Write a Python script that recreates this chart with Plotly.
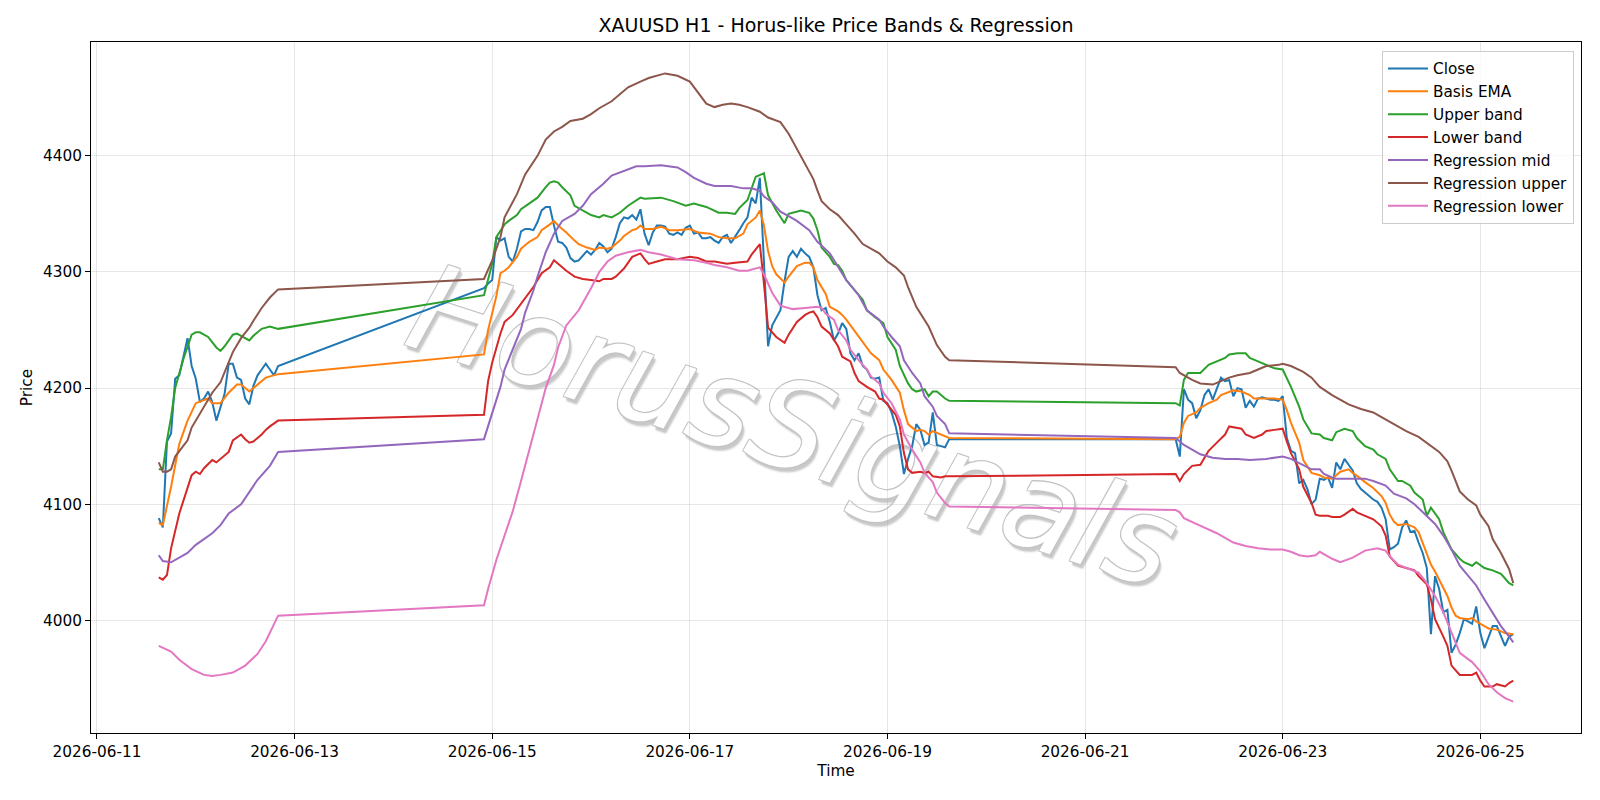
import pandas as pd
import plotly.graph_objects as go

BASE = pd.Timestamp("2026-06-11 00:00")

# ---- Close (hourly bars, three trading blocks; start hour offsets from BASE) ----
close_start_hours = [15, 94, 262]
close_block1 = [4088, 4080, 4154, 4161, 4208, 4211, 4227, 4243, 4219, 4208,
                4188, 4191, 4197, 4188, 4172, 4184, 4195, 4221, 4221, 4209,
                4207, 4191, 4186, 4202, 4211, 4216, 4221, 4216, 4211, 4219]
close_block2 = [4286, 4290, 4293, 4330, 4327, 4329, 4313, 4309, 4320, 4335,
                4337, 4337, 4336, 4343, 4353, 4356, 4356, 4340, 4326, 4325,
                4321, 4312, 4309, 4310, 4314, 4318, 4315, 4319, 4325, 4322,
                4317, 4320, 4330, 4342, 4347, 4346, 4349, 4345, 4354, 4333,
                4323, 4334, 4340, 4340, 4339, 4333, 4332, 4334, 4332, 4338,
                4340, 4333, 4334, 4329, 4329, 4330, 4327, 4325, 4330, 4332,
                4325, 4330, 4336, 4342, 4347, 4364, 4359, 4381, 4310, 4236,
                4254, 4261, 4267, 4292, 4313, 4318, 4313, 4320, 4316, 4313,
                4304, 4280, 4267, 4269, 4257, 4241, 4247, 4256, 4251, 4230,
                4224, 4230, 4219, 4216, 4209, 4208, 4209, 4189, 4187, 4179,
                4167, 4150, 4126, 4139, 4150, 4169, 4164, 4151, 4153, 4179,
                4151, 4150, 4149, 4156]
close_block3 = [4156, 4141, 4199, 4190, 4187, 4174, 4181, 4194, 4199, 4190,
                4200, 4209, 4206, 4207, 4193, 4200, 4199, 4183, 4189, 4184,
                4191, 4192, 4191, 4190, 4190, 4189, 4193, 4157, 4146, 4144,
                4118, 4121, 4113, 4100, 4104, 4122, 4121, 4123, 4114, 4136,
                4130, 4139, 4134, 4129, 4118, 4113, 4110, 4107, 4104, 4102,
                4097, 4087, 4061, 4063, 4066, 4080, 4086, 4076, 4077, 4067,
                4058, 4045, 3988, 4038, 4027, 4007, 4009, 3972, 3979, 3989,
                4001, 3999, 3997, 4012, 3989, 3976, 3986, 3995, 3995, 3986,
                3978, 3986, 3988]

# ---- Indicator readings: (hour offset from BASE, price) ----
basis_ema = [(15, 4084), (16, 4082), (18, 4115), (20, 4152), (22, 4172), (24, 4187), (27, 4191), (28, 4187),
             (30, 4187), (32, 4196), (34, 4203), (35, 4203), (37, 4197), (39, 4203), (41, 4209), (44, 4212),
             (94, 4229), (95, 4250), (97, 4279), (98, 4299), (99, 4301), (100, 4304), (102, 4313), (103, 4320),
             (105, 4326), (107, 4330), (108, 4336), (110, 4341), (111, 4344), (112, 4340), (114, 4334), (116, 4327),
             (117, 4324), (119, 4321), (121, 4319), (122, 4321), (124, 4320), (125, 4321), (127, 4327), (128, 4331),
             (130, 4336), (131, 4337), (132, 4340), (133, 4337), (135, 4337), (137, 4339), (139, 4336), (141, 4336),
             (144, 4337), (146, 4334), (149, 4333), (151, 4330), (153, 4329), (155, 4329), (157, 4333), (158, 4341),
             (160, 4347), (161, 4353), (162, 4340), (163, 4318), (164, 4305), (165, 4298), (167, 4291), (168, 4296),
             (170, 4305), (172, 4308), (173, 4308), (174, 4304), (175, 4293), (177, 4281), (178, 4270), (180, 4266),
             (181, 4263), (182, 4259), (184, 4249), (186, 4239), (188, 4230), (190, 4224), (191, 4216), (193, 4207),
             (195, 4196), (196, 4181), (197, 4169), (199, 4163), (200, 4164), (201, 4163), (202, 4160), (203, 4163),
             (205, 4160), (206, 4159), (207, 4157),
             (262, 4156), (263, 4158), (264, 4170), (265, 4176), (267, 4179), (268, 4183), (270, 4187), (272, 4190),
             (273, 4194), (275, 4197), (276, 4198), (278, 4197), (280, 4194), (281, 4191), (283, 4191), (285, 4191),
             (286, 4191), (288, 4190), (289, 4181), (290, 4170), (292, 4153), (293, 4138), (295, 4127), (297, 4125),
             (298, 4123), (300, 4122), (301, 4125), (302, 4128), (304, 4130), (305, 4127), (307, 4122), (308, 4119),
             (310, 4114), (312, 4107), (313, 4101), (314, 4091), (315, 4085), (316, 4082), (318, 4083), (320, 4080),
             (321, 4076), (322, 4067), (323, 4057), (324, 4048), (325, 4042), (327, 4027), (328, 4021), (329, 4011),
             (330, 4004), (331, 4002), (333, 4001), (334, 4002), (335, 3999), (337, 3995), (338, 3993), (340, 3992),
             (342, 3989), (344, 3988)]

upper_band = [(15, 4130), (16, 4130), (17, 4155), (18, 4175), (19, 4200), (21, 4225), (23, 4246), (24, 4248),
              (25, 4248), (27, 4244), (29, 4235), (30, 4232), (31, 4236), (33, 4246), (34, 4247), (37, 4241),
              (38, 4245), (40, 4251), (42, 4253), (44, 4251),
              (94, 4280), (96, 4307), (97, 4330), (99, 4341), (100, 4344), (102, 4349), (103, 4354), (105, 4359),
              (107, 4364), (109, 4373), (110, 4377), (111, 4378), (112, 4377), (113, 4373), (115, 4366), (116, 4357),
              (118, 4353), (120, 4349), (122, 4347), (123, 4349), (125, 4347), (127, 4351), (129, 4357), (132, 4364),
              (133, 4363), (137, 4364), (140, 4361), (143, 4357), (145, 4359), (148, 4356), (151, 4351), (153, 4351),
              (155, 4350), (156, 4355), (158, 4362), (159, 4372), (160, 4382), (162, 4385), (163, 4366), (165, 4353),
              (167, 4342), (168, 4350), (170, 4352), (171, 4353), (173, 4351), (174, 4346), (175, 4336), (176, 4321),
              (178, 4313), (179, 4307), (180, 4306), (181, 4301), (182, 4293), (184, 4284), (186, 4276), (187, 4267),
              (189, 4261), (191, 4256), (192, 4244), (194, 4233), (195, 4219), (197, 4204), (198, 4199), (199, 4197),
              (201, 4199), (202, 4193), (203, 4197), (204, 4197), (206, 4191), (207, 4189),
              (262, 4187), (263, 4185), (264, 4207), (265, 4213), (266, 4213), (268, 4213), (270, 4220), (272, 4223),
              (274, 4226), (275, 4229), (277, 4230), (279, 4230), (280, 4226), (282, 4223), (284, 4220), (286, 4217),
              (288, 4216), (290, 4201), (292, 4184), (293, 4173), (295, 4161), (297, 4160), (298, 4157), (300, 4155),
              (301, 4162), (303, 4165), (305, 4163), (306, 4157), (308, 4150), (310, 4147), (311, 4143), (313, 4139),
              (314, 4130), (316, 4120), (317, 4120), (319, 4116), (320, 4110), (322, 4104), (323, 4090), (324, 4097),
              (326, 4087), (327, 4076), (329, 4061), (331, 4053), (332, 4050), (334, 4047), (335, 4050), (337, 4045),
              (338, 4044), (339, 4043), (341, 4040), (343, 4032), (344, 4030)]

lower_band = [(15, 4037), (16, 4035), (17, 4039), (18, 4062), (20, 4092), (21, 4103), (23, 4125), (24, 4128),
              (25, 4126), (26, 4131), (28, 4138), (29, 4136), (30, 4139), (32, 4145), (33, 4155), (35, 4160),
              (36, 4156), (37, 4153), (38, 4154), (40, 4160), (41, 4164), (42, 4167), (44, 4172),
              (94, 4177), (95, 4206), (96, 4222), (98, 4247), (99, 4257), (101, 4263), (103, 4273), (106, 4287),
              (108, 4299), (110, 4304), (111, 4310), (113, 4304), (114, 4301), (116, 4296), (118, 4294), (120, 4293),
              (122, 4292), (123, 4294), (125, 4294), (126, 4296), (128, 4303), (130, 4313), (132, 4316), (133, 4311),
              (134, 4307), (136, 4309), (138, 4311), (141, 4311), (144, 4313), (146, 4312), (148, 4309), (150, 4309),
              (153, 4307), (155, 4308), (158, 4309), (159, 4315), (161, 4324), (162, 4290), (163, 4252), (165, 4244),
              (167, 4239), (168, 4246), (170, 4257), (172, 4263), (173, 4265), (174, 4266), (175, 4261), (176, 4253),
              (178, 4247), (180, 4236), (181, 4227), (183, 4223), (184, 4213), (185, 4206), (187, 4201), (189, 4197),
              (190, 4191), (191, 4190), (193, 4181), (194, 4177), (195, 4167), (196, 4144), (197, 4130), (198, 4127),
              (200, 4128), (201, 4127), (202, 4128), (203, 4124), (205, 4123), (206, 4124), (207, 4124),
              (262, 4126), (263, 4120), (264, 4126), (266, 4133), (268, 4134), (269, 4140), (270, 4146), (272, 4153),
              (274, 4160), (275, 4167), (277, 4166), (278, 4165), (279, 4160), (281, 4157), (283, 4160), (284, 4163),
              (286, 4164), (288, 4165), (289, 4154), (290, 4144), (292, 4130), (293, 4115), (295, 4101), (296, 4091),
              (297, 4090), (299, 4090), (300, 4089), (302, 4089), (303, 4091), (305, 4096), (306, 4093), (308, 4090),
              (310, 4087), (312, 4081), (313, 4073), (314, 4055), (316, 4047), (318, 4045), (320, 4043), (321, 4038),
              (323, 4031), (324, 4018), (325, 4001), (327, 3986), (328, 3978), (329, 3961), (331, 3953), (332, 3953),
              (334, 3953), (335, 3955), (336, 3948), (337, 3943), (339, 3943), (340, 3945), (342, 3943), (343, 3946),
              (344, 3948)]

regression_mid = [(15, 4056), (16, 4051), (18, 4050), (19, 4052), (22, 4058), (24, 4065), (26, 4070), (28, 4075),
                  (30, 4082), (32, 4092), (35, 4100), (37, 4110), (39, 4121), (42, 4133), (44, 4145),
                  (94, 4156), (96, 4179), (98, 4201), (99, 4216), (101, 4233), (103, 4251), (104, 4265), (106, 4284),
                  (107, 4296), (109, 4317), (111, 4333), (113, 4344), (116, 4350), (118, 4357), (120, 4367),
                  (123, 4376), (125, 4383), (128, 4387), (131, 4391), (133, 4391), (137, 4392), (141, 4390),
                  (143, 4386), (145, 4381), (148, 4376), (150, 4374), (154, 4374), (157, 4372), (159, 4372),
                  (161, 4370), (162, 4365), (164, 4360), (166, 4352), (168, 4348), (170, 4344), (173, 4336),
                  (175, 4326), (178, 4316), (180, 4304), (182, 4293), (185, 4280), (187, 4267), (190, 4259),
                  (191, 4253), (193, 4244), (195, 4236), (196, 4224), (198, 4213), (200, 4204), (201, 4193),
                  (203, 4184), (204, 4176), (206, 4169), (207, 4161),
                  (262, 4157), (264, 4151), (266, 4147), (268, 4143), (271, 4140), (274, 4139), (277, 4139),
                  (280, 4138), (284, 4139), (286, 4140), (288, 4141), (290, 4139), (293, 4134), (295, 4130),
                  (297, 4130), (298, 4126), (300, 4123), (301, 4122), (306, 4122), (308, 4122), (310, 4120),
                  (313, 4116), (315, 4109), (318, 4105), (320, 4100), (322, 4093), (325, 4083), (327, 4073),
                  (329, 4061), (331, 4047), (333, 4038), (335, 4030), (337, 4018), (339, 4007), (341, 3995),
                  (343, 3986), (344, 3981)]

regression_upper = [(15, 4136), (16, 4128), (17, 4128), (18, 4130), (19, 4141), (21, 4150), (22, 4155), (23, 4166),
                    (25, 4178), (26, 4185), (28, 4196), (30, 4205), (31, 4214), (33, 4231), (35, 4243), (37, 4252),
                    (38, 4258), (40, 4269), (42, 4278), (44, 4285),
                    (94, 4294), (96, 4310), (98, 4330), (99, 4347), (102, 4367), (104, 4384), (107, 4400),
                    (109, 4414), (111, 4421), (113, 4425), (115, 4430), (118, 4432), (120, 4436), (122, 4441),
                    (125, 4447), (127, 4453), (129, 4459), (132, 4464), (134, 4467), (138, 4471), (141, 4469),
                    (144, 4464), (146, 4455), (148, 4445), (150, 4442), (152, 4444), (154, 4445), (156, 4444),
                    (158, 4442), (161, 4438), (163, 4433), (166, 4429), (168, 4419), (170, 4406), (172, 4394),
                    (174, 4380), (175, 4370), (176, 4361), (178, 4354), (180, 4349), (182, 4341), (184, 4333),
                    (186, 4324), (188, 4320), (190, 4316), (192, 4309), (194, 4304), (196, 4297), (197, 4287),
                    (199, 4270), (202, 4253), (204, 4237), (206, 4227), (207, 4224),
                    (262, 4218), (263, 4213), (264, 4211), (266, 4207), (268, 4204), (271, 4203), (273, 4206),
                    (275, 4209), (277, 4211), (280, 4213), (282, 4216), (284, 4219), (287, 4220), (288, 4221),
                    (290, 4219), (293, 4214), (295, 4209), (297, 4201), (300, 4194), (302, 4190), (304, 4186),
                    (307, 4182), (310, 4179), (312, 4175), (315, 4169), (318, 4163), (321, 4158), (323, 4153),
                    (326, 4145), (328, 4137), (329, 4129), (331, 4111), (333, 4104), (335, 4099), (336, 4091),
                    (338, 4081), (339, 4070), (341, 4058), (343, 4044), (344, 4032)]

regression_lower = [(15, 3978), (18, 3973), (20, 3966), (23, 3958), (26, 3953), (28, 3952), (30, 3953), (33, 3955),
                    (36, 3961), (39, 3971), (41, 3982), (42, 3989), (43, 3996), (44, 4004),
                    (94, 4013), (95, 4027), (97, 4052), (99, 4073), (101, 4094), (103, 4120), (105, 4147),
                    (107, 4172), (109, 4200), (111, 4220), (112, 4235), (114, 4254), (115, 4258), (117, 4267),
                    (120, 4286), (122, 4300), (124, 4309), (126, 4314), (129, 4317), (132, 4319), (134, 4317),
                    (137, 4315), (141, 4311), (145, 4310), (148, 4308), (150, 4306), (153, 4304), (156, 4301),
                    (158, 4301), (161, 4304), (162, 4298), (164, 4282), (166, 4271), (169, 4268), (172, 4269),
                    (175, 4270), (176, 4269), (177, 4264), (179, 4259), (180, 4250), (182, 4241), (183, 4233),
                    (185, 4224), (187, 4216), (188, 4210), (190, 4204), (191, 4196), (193, 4187), (195, 4173),
                    (196, 4160), (198, 4147), (200, 4136), (201, 4127), (203, 4119), (204, 4110), (206, 4101),
                    (207, 4098),
                    (262, 4095), (263, 4093), (264, 4088), (267, 4083), (269, 4080), (272, 4075), (274, 4071),
                    (276, 4067), (279, 4064), (282, 4062), (285, 4061), (288, 4061), (290, 4059), (292, 4056),
                    (294, 4055), (296, 4056), (297, 4059), (298, 4057), (300, 4053), (302, 4050), (305, 4054),
                    (308, 4060), (311, 4062), (313, 4060), (314, 4055), (316, 4048), (318, 4045), (321, 4041),
                    (323, 4032), (325, 4021), (327, 4007), (329, 3989), (331, 3972), (334, 3964), (336, 3956),
                    (338, 3945), (340, 3938), (342, 3933), (344, 3930)]

y_tick_values = [4000, 4100, 4200, 4300, 4400]
x_tick_labels = ["2026-06-11", "2026-06-13", "2026-06-15", "2026-06-17",
                 "2026-06-19", "2026-06-21", "2026-06-23", "2026-06-25"]

series_names = ["Close", "Basis EMA", "Upper band", "Lower band",
                "Regression mid", "Regression upper", "Regression lower"]
series_colors = ["#1f77b4", "#ff7f0e", "#2ca02c", "#d62728",
                 "#9467bd", "#8c564b", "#e377c2"]


def to_time(hours):
    return [BASE + pd.Timedelta(hours=h) for h in hours]


close_hours = []
close_values = []
for start, block in zip(close_start_hours, [close_block1, close_block2, close_block3]):
    close_hours += list(range(start, start + len(block)))
    close_values += block

series = [(close_hours, close_values)]
for pairs in [basis_ema, upper_band, lower_band, regression_mid, regression_upper, regression_lower]:
    series.append(([p[0] for p in pairs], [p[1] for p in pairs]))

fig = go.Figure()
for (hrs, vals), name, color in zip(series, series_names, series_colors):
    fig.add_trace(go.Scatter(x=to_time(hrs), y=vals, mode="lines", name=name,
                             line=dict(color=color, width=2)))

# matplotlib-like 5% data margins
all_h = [h for s in series for h in s[0]]
all_v = [v for s in series for v in s[1]]
hpad = 0.05 * (max(all_h) - min(all_h))
vpad = 0.05 * (max(all_v) - min(all_v))
x_range = [BASE + pd.Timedelta(hours=min(all_h) - hpad), BASE + pd.Timedelta(hours=max(all_h) + hpad)]
y_range = [min(all_v) - vpad, max(all_v) + vpad]

FONT = "DejaVu Sans"
axis_common = dict(showline=True, linecolor="black", linewidth=1.1, mirror=True,
                   ticks="outside", ticklen=5, tickwidth=1.1, tickcolor="black",
                   showgrid=True, gridcolor="rgba(176,176,176,0.3)", gridwidth=1.1,
                   zeroline=False, tickfont=dict(family=FONT, size=15.3, color="black"))

fig.update_layout(
    width=1600, height=800,
    paper_bgcolor="white", plot_bgcolor="white",
    margin=dict(l=91, r=19, t=42, b=67, autoexpand=False),
    font=dict(family=FONT, color="black"),
    title=dict(text="XAUUSD H1 - Horus-like Price Bands & Regression",
               font=dict(family=FONT, size=19, color="black"),
               x=0.5, xref="paper", xanchor="center", y=1 - 25.5 / 800, yanchor="middle"),
    xaxis=dict(range=x_range, tickvals=[pd.Timestamp(t) for t in x_tick_labels],
               ticktext=x_tick_labels,
               title=dict(text="Time", font=dict(family=FONT, size=15.3), standoff=4),
               **axis_common),
    yaxis=dict(range=y_range, tickvals=y_tick_values,
               ticktext=[str(v) for v in y_tick_values],
               title=dict(text="Price", font=dict(family=FONT, size=15.3), standoff=6),
               **axis_common),
    legend=dict(x=0.9953, y=0.987, xanchor="right", yanchor="top",
                bgcolor="rgba(255,255,255,0.8)", bordercolor="#cccccc", borderwidth=1,
                itemwidth=40,
                font=dict(family=FONT, size=15.3, color="black")),
    showlegend=True,
)

# watermark, drawn between the gridlines and the data lines
fig.add_shape(
    type="line", xref="paper", yref="paper", x0=0.45, x1=0.496, y0=0.456, y1=0.456,
    layer="between", line=dict(color="rgba(0,0,0,0)", width=1),
    label=dict(text="HorusSignals", textposition="middle", xanchor="center", yanchor="middle",
               textangle=18,
               font=dict(family=FONT, size=122, style="italic", color="white",
                         shadow="-1px -1px 0 #c4c4c4, 1px -1px 0 #c4c4c4, -1px 1px 0 #c4c4c4, "
                                "1px 1px 0 #c4c4c4, 3px 3px 1px #c8c8c8, 4px 4px 2px #d0d0d0")),
)

fig.write_html("out.html", post_script="document.body.style.margin='0';")
